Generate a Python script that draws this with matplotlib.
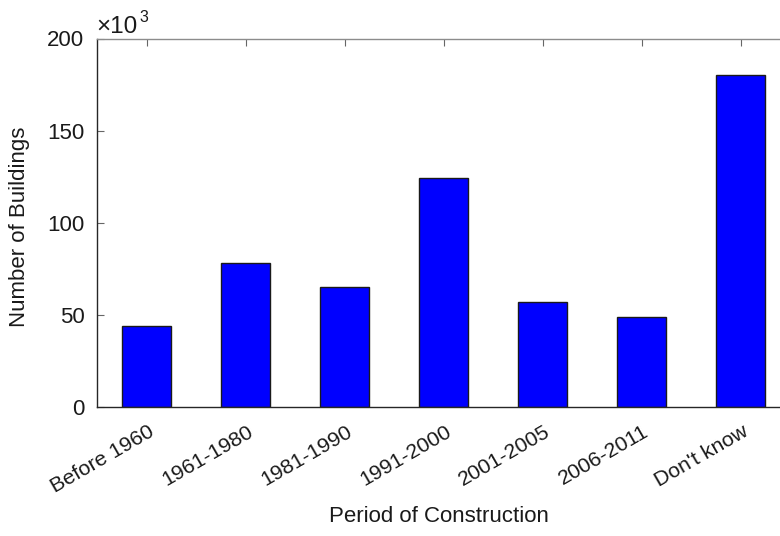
import matplotlib
matplotlib.use("Agg")
import matplotlib.pyplot as plt
from matplotlib.transforms import ScaledTranslation

categories = ["Before 1960", "1961-1980", "1981-1990", "1991-2000", "2001-2005", "2006-2011", "Don't know"]
values = [44.1, 78.4, 64.9, 124.3, 57.1, 48.9, 180.2]
yticks = [0, 50, 100, 150, 200]

plt.rcParams['font.family'] = ['Liberation Sans', 'DejaVu Sans']

FS = 16
TXT = "#1a1a1a"

fig = plt.figure(figsize=(7.8, 5.36), dpi=100)
W, H = 780, 536
left, right, top, bottom = 97, 790, 38.5, 407
ax = fig.add_axes([left / W, 1 - bottom / H, (right - left) / W, (bottom - top) / H])

x = list(range(1, len(categories) + 1))
ax.bar(x, values, width=0.5, color="#0000ff", edgecolor="#1a1a1a", linewidth=1.0, zorder=2)

ax.set_xlim(0.5, 7.5)
ax.set_ylim(0, 200)
ax.set_yticks(yticks)
ax.set_yticklabels([str(v) for v in yticks], fontsize=FS)
ax.set_xticks(x)
ax.set_xticklabels(categories, rotation=30, ha="right", va="center",
                   rotation_mode="anchor", fontsize=15.3)
ax.tick_params(axis="both", direction="in", length=5, width=0.8, color="#666666",
               top=True, right=False, labelcolor=TXT)
ax.tick_params(axis="y", pad=9)
ax.tick_params(axis="x", pad=16.5)
off = ScaledTranslation(6 / 100, 0, fig.dpi_scale_trans)
for lab in ax.get_xticklabels():
    lab.set_transform(lab.get_transform() + off)

for s in ["left", "bottom"]:
    ax.spines[s].set_color("#262626")
    ax.spines[s].set_linewidth(1.0)
ax.spines["top"].set_color("#8c8c8c")
ax.spines["top"].set_linewidth(1.0)
ax.spines["right"].set_visible(False)

ax.set_ylabel("Number of Buildings", fontsize=FS, color=TXT, va="center")
ax.yaxis.set_label_coords((20 - left) / (right - left), (bottom - 226.5) / (bottom - top))
ax.set_xlabel("Period of Construction", fontsize=FS, color=TXT, va="center")
ax.xaxis.set_label_coords((439 - left) / (right - left), (bottom - 517) / (bottom - top))

fig.text(96 / W, 1 - 33 / H, "\u00d710", fontsize=17.5, color=TXT, va="baseline", ha="left")
fig.text(139 / W, 1 - 22 / H, "3", fontsize=11.5, color=TXT, va="baseline", ha="left")

fig.savefig("out.png", dpi=100)
